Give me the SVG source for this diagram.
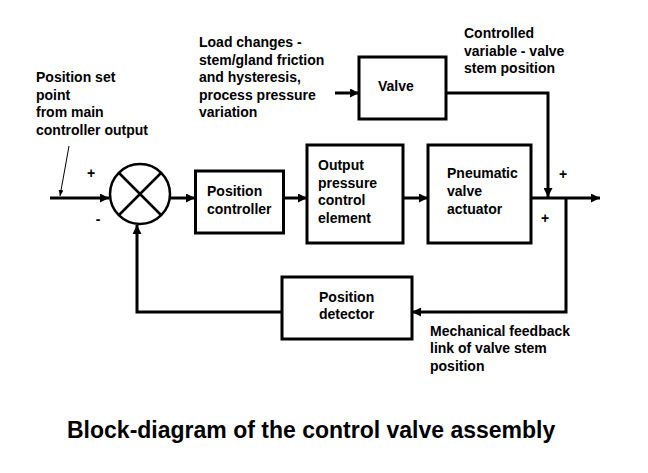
<svg xmlns="http://www.w3.org/2000/svg" width="648" height="473" viewBox="0 0 648 473">
<style>
text{font-family:"Liberation Sans",Arial,sans-serif;font-weight:bold;font-size:14px;fill:#000}
.box{fill:#fff;stroke:#000;stroke-width:3}
.ln{fill:none;stroke:#000;stroke-width:3}
.thin{fill:none;stroke:#000;stroke-width:1}
.sign{text-anchor:middle}
.title{font-size:23px}
</style>
<defs>
<marker id="ah" viewBox="0 0 10 10" refX="10" refY="5" markerWidth="3" markerHeight="3" orient="auto" markerUnits="strokeWidth">
<path d="M0,0 L10,5 L0,10 z" fill="#000"/>
</marker>
<marker id="ahs" viewBox="0 0 10 10" refX="10" refY="5" markerWidth="6" markerHeight="6" orient="auto" markerUnits="strokeWidth">
<path d="M0,1 L10,5 L0,9 z" fill="#000"/>
</marker>
</defs>
<rect width="648" height="473" fill="#fff"/>

<g id="connectors">
<path class="ln" d="M50,198 H109" marker-end="url(#ah)"/>
<path class="ln" d="M170,198 H195" marker-end="url(#ah)"/>
<path class="ln" d="M283,198 H307" marker-end="url(#ah)"/>
<path class="ln" d="M403,198 H428" marker-end="url(#ah)"/>
<path class="ln" d="M531,198 H600" marker-end="url(#ah)"/>
<path class="ln" d="M335,93 H359" marker-end="url(#ah)"/>
<path class="ln" d="M446,93 H548 V197" marker-end="url(#ah)"/>
<path class="ln" d="M566,198 V312 H412" marker-end="url(#ah)"/>
<path class="ln" d="M282,312 H137 V225" marker-end="url(#ah)"/>
<path class="thin" d="M69,146 L60,196" marker-end="url(#ahs)"/>
</g>

<g id="sum">
<circle cx="140" cy="194" r="30" fill="#fff" stroke="#000" stroke-width="2.5"/>
<path d="M119,173 L161,215 M161,173 L119,215" stroke="#000" stroke-width="2.5"/>
</g>

<g id="position-controller">
<rect class="box" x="195.5" y="171" width="88" height="62"/>
<text x="207" y="196">Position</text>
<text x="207" y="214">controller</text>
</g>

<g id="output-pressure">
<rect class="box" x="307" y="145" width="96" height="98"/>
<text x="318" y="170">Output</text>
<text x="318" y="188">pressure</text>
<text x="318" y="205">control</text>
<text x="318" y="223">element</text>
</g>

<g id="actuator">
<rect class="box" x="428" y="145" width="103" height="98"/>
<text x="447" y="178">Pneumatic</text>
<text x="447" y="196">valve</text>
<text x="447" y="214">actuator</text>
</g>

<g id="valve">
<rect class="box" x="359" y="57" width="87" height="62"/>
<text x="378" y="91">Valve</text>
</g>

<g id="position-detector">
<rect class="box" x="282" y="277" width="130" height="62"/>
<text x="319" y="302">Position</text>
<text x="319" y="319">detector</text>
</g>

<g id="labels">
<text x="36" y="82">Position set</text>
<text x="36" y="100">point</text>
<text x="36" y="117">from main</text>
<text x="36" y="135">controller output</text>
<text x="199" y="47">Load changes -</text>
<text x="199" y="65">stem/gland friction</text>
<text x="199" y="82">and hysteresis,</text>
<text x="199" y="100">process pressure</text>
<text x="199" y="117">variation</text>
<text x="464" y="38">Controlled</text>
<text x="464" y="56">variable - valve</text>
<text x="464" y="73">stem position</text>
<text x="430" y="336">Mechanical feedback</text>
<text x="430" y="353">link of valve stem</text>
<text x="430" y="371">position</text>
<text class="sign" x="91" y="178">+</text>
<text class="sign" x="98" y="224">-</text>
<text class="sign" x="563" y="179">+</text>
<text class="sign" x="545" y="223">+</text>
<text class="title" x="67" y="438">Block-diagram of the control valve assembly</text>
</g>
</svg>
